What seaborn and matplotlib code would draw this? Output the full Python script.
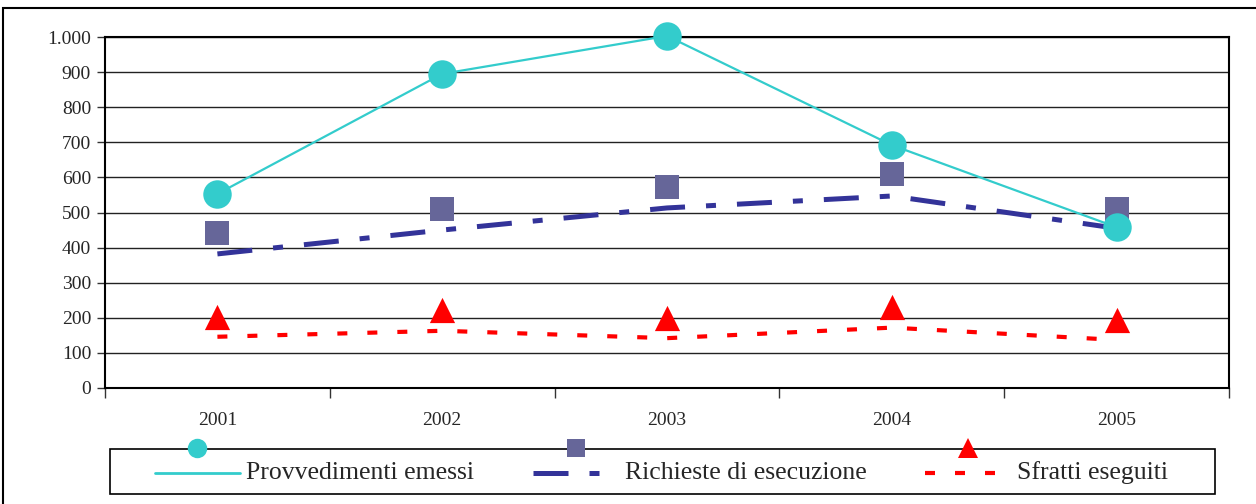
import numpy as np
import pandas as pd
import matplotlib.pyplot as plt
import matplotlib.ticker as mticker
from matplotlib.lines import Line2D
from matplotlib.patches import Rectangle
from matplotlib.legend_handler import HandlerLine2DCompound
import seaborn as sns

anni = ["2001", "2002", "2003", "2004", "2005"]
provvedimenti = [553, 895, 1003, 692, 458]
richieste_punti = [442, 510, 573, 610, 510]
richieste_linea = [382, 450, 513, 547, 455]
sfratti_punti = [203, 222, 200, 232, 194]
sfratti_linea = [146, 163, 142, 172, 137]

col_prov = "#33CCCC"
col_rich_pt = "#666699"
col_rich = "#333399"
col_sfr = "#FF0000"

sns.set_style("white")
plt.rcParams["font.family"] = ["Liberation Serif", "DejaVu Serif"]

x = np.arange(len(anni))
df = pd.DataFrame({"x": x, "prov": provvedimenti, "rich_pt": richieste_punti,
                   "rich": richieste_linea, "sfr_pt": sfratti_punti, "sfr": sfratti_linea})

fig = plt.figure(figsize=(12.56, 5.04), dpi=100)
ax = fig.add_axes([105 / 1256, 1 - 388 / 504, 1124 / 1256, 351 / 504])

ax.set_ylim(0, 1000)
ax.set_xlim(-0.5, 4.5)
ax.yaxis.set_major_locator(mticker.MultipleLocator(100))
ax.yaxis.grid(True, color="#222222", lw=1)
ax.set_axisbelow(True)

# linee
sns.lineplot(data=df, x="x", y="rich", ax=ax, color=col_rich, lw=3.6, zorder=2)
ax.lines[-1].set_dashes((7, 4.2, 2, 4.2))
sns.lineplot(data=df, x="x", y="sfr", ax=ax, color=col_sfr, lw=3, zorder=2)
ax.lines[-1].set_dashes((2.4, 4.8))
sns.lineplot(data=df, x="x", y="prov", ax=ax, color=col_prov, lw=1.6, zorder=3)

# marcatori
sns.scatterplot(data=df, x="x", y="rich_pt", ax=ax, color=col_rich_pt, marker="s",
                s=290, linewidth=0, zorder=4, clip_on=False)
sns.scatterplot(data=df, x="x", y="sfr_pt", ax=ax, color=col_sfr, marker="^",
                s=330, linewidth=0, zorder=4, clip_on=False)
sns.scatterplot(data=df, x="x", y="prov", ax=ax, color=col_prov, marker="o",
                s=420, linewidth=0, zorder=5, clip_on=False)

ax.set_xlabel("")
ax.set_ylabel("")
ax.set_xticks(x)
ax.set_xticklabels(anni)
ax.set_xticks(np.arange(-0.5, 5, 1), minor=True)
ax.tick_params(axis="x", which="major", length=0, pad=17, labelsize=14)
ax.tick_params(axis="x", which="minor", length=7, width=1, direction="out", color="#333333")
ax.tick_params(axis="y", length=6, width=1, direction="out", labelsize=14, pad=4,
               color="#333333")
ax.yaxis.set_major_formatter(mticker.FuncFormatter(lambda v, p: f"{int(v):,}".replace(",", ".")))
for s in ax.spines.values():
    s.set_color("black")
    s.set_linewidth(1.5)
ax.tick_params(left=True, bottom=True, which="both")

# cornice esterna
fig.patches.append(Rectangle((3 / 1256, -0.1), 1.2, 1 - 8 / 504 + 0.1, transform=fig.transFigure,
                             fill=False, edgecolor="black", lw=1.5))
# riquadro della legenda
fig.patches.append(Rectangle((110 / 1256, 10 / 504), 1105 / 1256, 45 / 504,
                             transform=fig.transFigure, fill=False, edgecolor="black",
                             lw=1.2, zorder=1))


# marcatore della legenda spostato in alto, come nell'originale
class MarcatoreAlto(HandlerLine2DCompound):
    def create_artists(self, legend, orig_handle, xdescent, ydescent, width, height,
                       fontsize, trans):
        art = super().create_artists(legend, orig_handle, xdescent, ydescent, width,
                                     height, fontsize, trans)
        linea, marc = art
        linea.set_ydata(np.asarray(linea.get_ydata()) - height * 0.15)
        marc.set_ydata(np.asarray(marc.get_ydata()) + height * 1.2)
        return art


handles = [
    Line2D([], [], color=col_prov, lw=2, marker="o", markersize=14, markeredgewidth=0),
    Line2D([], [], color=col_rich, lw=3.6, dashes=(7, 4.2, 2, 4.2), marker="s",
           markersize=13, markerfacecolor=col_rich_pt, markeredgewidth=0),
    Line2D([], [], color=col_sfr, lw=3, dashes=(2.4, 4.8), marker="^",
           markersize=15, markeredgewidth=0),
]
labels = ["Provvedimenti emessi", "Richieste di esecuzione", "Sfratti eseguiti"]
leg = fig.legend(handles, labels, ncol=3, loc="lower left",
                 bbox_to_anchor=(155 / 1256, 20 / 504),
                 fontsize=18.5, frameon=False, handlelength=3.3,
                 handletextpad=0.25, columnspacing=2.3, borderaxespad=0, borderpad=0,
                 handler_map={Line2D: MarcatoreAlto()})

fig.savefig("out.png", dpi=100)
